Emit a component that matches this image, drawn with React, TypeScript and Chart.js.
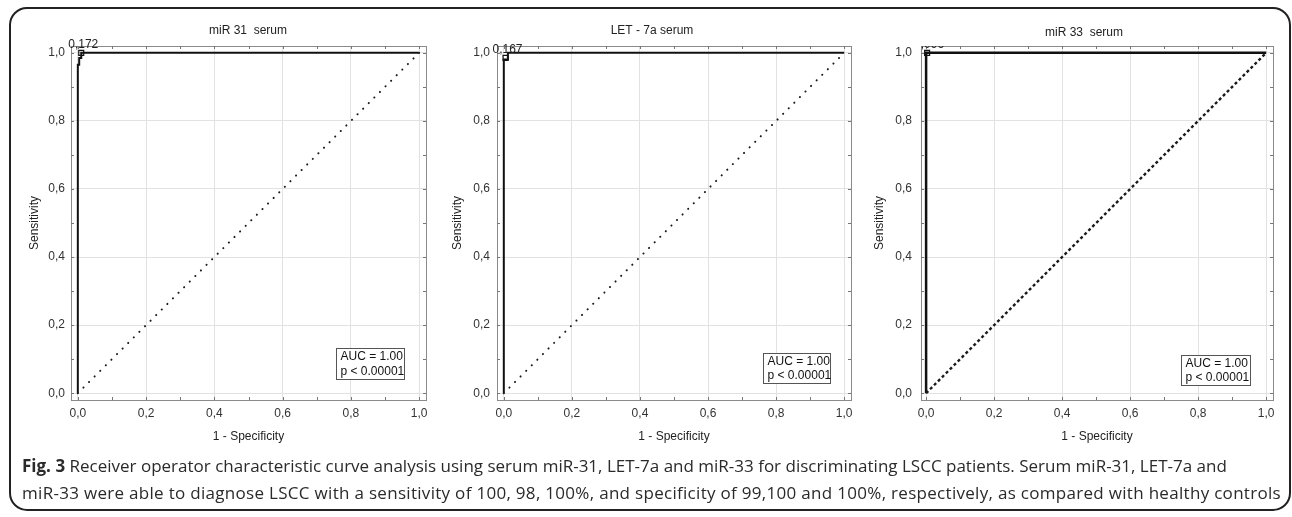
import React, { useEffect, useRef } from 'react';
import { Chart, registerables } from 'chart.js';

Chart.register(...registerables);
Chart.defaults.font.family = '"Liberation Sans", Arial, sans-serif';

// ---------- data ----------
const AXIS_TICKS = [0, 0.2, 0.4, 0.6, 0.8, 1.0];
const AXIS_TICK_LABELS = ['0,0', '0,2', '0,4', '0,6', '0,8', '1,0'];
const MINOR_TICKS = [0, 0.1, 0.2, 0.3, 0.4, 0.5, 0.6, 0.7, 0.8, 0.9, 1.0];

const PANEL_TITLES = ['miR 31  serum', 'LET - 7a serum', 'miR 33  serum'];
const X_TITLE = '1 - Specificity';
const Y_TITLE = 'Sensitivity';

const MIR31_FPR = [0, 0, 0.004, 0.004, 0.01, 0.01, 1];
const MIR31_TPR = [0, 0.965, 0.965, 0.985, 0.985, 1, 1];

const LET7A_FPR = [0, 0, 0.012, 0.012, 1];
const LET7A_TPR = [0, 0.98, 0.98, 1, 1];

const MIR33_FPR = [0, 0, 1];
const MIR33_TPR = [0, 1, 1];

const DIAG_X = [0, 1];
const DIAG_Y = [0, 1];

const CUTOFF_X = [0.01, 0.005, 0.003];
const CUTOFF_Y = [1, 0.985, 1];
const CUTOFF_LABELS = ['0,172', '0,167', '0,096'];

const AUC_LINES = ['AUC = 1.00', 'p < 0.00001'];

const CAPTION_BOLD = 'Fig. 3';
const CAPTION_LINE1 = ' Receiver operator characteristic curve analysis using serum miR-31, LET-7a and miR-33 for discriminating LSCC patients. Serum miR-31, LET-7a and';
const CAPTION_LINE2 = 'miR-33 were able to diagnose LSCC with a sensitivity of 100, 98, 100%, and specificity of 99,100 and 100%, respectively, as compared with healthy controls';

const ROC_FPR = [MIR31_FPR, LET7A_FPR, MIR33_FPR];
const ROC_TPR = [MIR31_TPR, LET7A_TPR, MIR33_TPR];

// ---------- layout / style per panel ----------
const PANELS = [
  { left: 15, yAxisW: 56, padRight: 9, xMin: -0.02, titleX: 233, titleY: 21, yTitleOff: 36, yTickPad: 6,
    box: [0.756, 0.956, 0.132, 0.041], diagDash: [0.1, 7.8], diagW: 2, diagCap: 'round', rocW: 2, clipLabel: false },
  { left: 440, yAxisW: 57, padRight: 9, xMin: -0.02, titleX: 212, titleY: 21, yTitleOff: 39, yTickPad: 7,
    box: [0.762, 0.959, 0.118, 0.03], diagDash: [0.1, 7.8], diagW: 2, diagCap: 'round', rocW: 2, clipLabel: false },
  { left: 865, yAxisW: 56, padRight: 12, xMin: -0.015, titleX: 219, titleY: 23, yTitleOff: 41, yTickPad: 9,
    box: [0.75, 0.953, 0.112, 0.024], diagDash: [3, 2.6], diagW: 2.4, diagCap: 'butt', rocW: 2.5, clipLabel: true },
];

const FONT = '"Liberation Sans", Arial, sans-serif';

const tickLabel = (v: number) => {
  const i = AXIS_TICKS.findIndex((t) => Math.abs(t - v) < 1e-6);
  return i >= 0 ? AXIS_TICK_LABELS[i] : '';
};

const decoPlugin = {
  id: 'deco',
  beforeDatasetsDraw(chart: any) {
    const { ctx, chartArea: ca, scales } = chart;
    ctx.save();
    ctx.strokeStyle = '#8a8a8a';
    ctx.lineWidth = 1;
    ctx.strokeRect(Math.round(ca.left) + 0.5, Math.round(ca.top) + 0.5, Math.round(ca.right - ca.left), Math.round(ca.bottom - ca.top));
    ctx.strokeStyle = '#777';
    MINOR_TICKS.forEach((v) => {
      const px = Math.round(scales.x.getPixelForValue(v)) + 0.5;
      const py = Math.round(scales.y.getPixelForValue(v)) + 0.5;
      ctx.beginPath();
      ctx.moveTo(px, ca.top); ctx.lineTo(px, ca.top + 3);
      ctx.moveTo(px, ca.bottom); ctx.lineTo(px, ca.bottom - 3);
      ctx.moveTo(ca.left, py); ctx.lineTo(ca.left + 3, py);
      ctx.moveTo(ca.right, py); ctx.lineTo(ca.right - 3, py);
      ctx.stroke();
    });
    ctx.restore();
  },
  afterDatasetsDraw(chart: any, _a: any, opts: any) {
    const { ctx, chartArea: ca, scales } = chart;
    const p = opts.panel;
    const idx = opts.index;
    // AUC box
    const x1 = Math.round(scales.x.getPixelForValue(p.box[0])) + 0.5;
    const x2 = Math.round(scales.x.getPixelForValue(p.box[1])) + 0.5;
    const y1 = Math.round(scales.y.getPixelForValue(p.box[2])) + 0.5;
    const y2 = Math.round(scales.y.getPixelForValue(p.box[3])) + 0.5;
    ctx.save();
    ctx.fillStyle = '#fff';
    ctx.fillRect(x1, y1, x2 - x1, y2 - y1);
    ctx.strokeStyle = '#555';
    ctx.lineWidth = 1;
    ctx.strokeRect(x1, y1, x2 - x1, y2 - y1);
    ctx.fillStyle = '#111';
    ctx.font = '12px ' + FONT;
    ctx.textAlign = 'left';
    ctx.textBaseline = 'middle';
    const h = y2 - y1;
    ctx.fillText(AUC_LINES[0], x1 + 4, y1 + h * 0.27);
    ctx.fillText(AUC_LINES[1], x1 + 4, y1 + h * 0.75);
    ctx.restore();
    // cutoff label
    const lx = scales.x.getPixelForValue(CUTOFF_X[idx]);
    const ly = scales.y.getPixelForValue(CUTOFF_Y[idx]);
    ctx.save();
    if (p.clipLabel) {
      ctx.beginPath();
      ctx.rect(ca.left, ca.top, ca.right - ca.left, ca.bottom - ca.top);
      ctx.clip();
    }
    ctx.fillStyle = '#222';
    ctx.font = '12px ' + FONT;
    ctx.textAlign = 'center';
    ctx.textBaseline = 'middle';
    ctx.fillText(CUTOFF_LABELS[idx], lx + 2, ly - 8);
    ctx.restore();
  },
  afterDraw(chart: any, _a: any, opts: any) {
    const { ctx, chartArea: ca } = chart;
    const p = opts.panel;
    const idx = opts.index;
    ctx.save();
    ctx.fillStyle = '#222';
    ctx.font = '12px ' + FONT;
    ctx.textAlign = 'center';
    ctx.textBaseline = 'middle';
    ctx.fillText(PANEL_TITLES[idx], p.titleX, p.titleY);
    ctx.fillText(X_TITLE, (ca.left + ca.right) / 2, ca.bottom + 37);
    ctx.translate(ca.left - p.yTitleOff, (ca.top + ca.bottom) / 2);
    ctx.rotate(-Math.PI / 2);
    ctx.fillText(Y_TITLE, 0, 0);
    ctx.restore();
  },
};

function RocPanel({ index }: { index: number }) {
  const ref = useRef<HTMLCanvasElement | null>(null);
  const p = PANELS[index];
  useEffect(() => {
    if (!ref.current) return;
    const roc = ROC_FPR[index].map((x, i) => ({ x, y: ROC_TPR[index][i] }));
    const diag = DIAG_X.map((x, i) => ({ x, y: DIAG_Y[i] }));
    const chart = new Chart(ref.current, {
      type: 'scatter',
      data: {
        datasets: [
          {
            data: diag,
            showLine: true,
            borderColor: '#1a1a1a',
            borderWidth: p.diagW,
            borderDash: p.diagDash,
            borderCapStyle: p.diagCap,
            pointRadius: 0,
          } as any,
          {
            data: roc,
            showLine: true,
            borderColor: '#111',
            borderWidth: p.rocW,
            pointRadius: 0,
            tension: 0,
          },
          {
            data: [{ x: CUTOFF_X[index], y: CUTOFF_Y[index] }],
            showLine: false,
            pointStyle: 'rect',
            pointRadius: 3.5,
            borderColor: '#111',
            borderWidth: 1.2,
            backgroundColor: 'rgba(0,0,0,0)',
          },
        ],
      },
      options: {
        animation: false,
        responsive: false,
        events: [],
        layout: { padding: { top: 36, right: p.padRight, left: 0, bottom: 0 } },
        plugins: {
          legend: { display: false },
          tooltip: { enabled: false },
          deco: { panel: p, index },
        } as any,
        scales: {
          x: {
            type: 'linear',
            min: p.xMin,
            max: 1.02,
            afterBuildTicks: (s: any) => { s.ticks = AXIS_TICKS.map((v) => ({ value: v })); },
            afterFit: (s: any) => { s.height = 60; },
            grid: { color: '#e2e2e2', drawTicks: false },
            border: { display: false },
            ticks: { padding: 6, color: '#333', font: { size: 12 }, maxRotation: 0, autoSkip: false, callback: (v: any) => tickLabel(Number(v)) },
          },
          y: {
            type: 'linear',
            min: -0.02,
            max: 1.02,
            afterBuildTicks: (s: any) => { s.ticks = AXIS_TICKS.map((v) => ({ value: v })); },
            afterFit: (s: any) => { s.width = p.yAxisW; },
            grid: { color: '#e2e2e2', drawTicks: false },
            border: { display: false },
            ticks: { padding: p.yTickPad, color: '#333', font: { size: 12 }, autoSkip: false, callback: (v: any) => tickLabel(Number(v)) },
          },
        },
      },
      plugins: [decoPlugin],
    } as any);
    return () => chart.destroy();
  }, [index]);
  return (
    <canvas
      ref={ref}
      width={420}
      height={450}
      style={{ position: 'absolute', left: p.left, top: 10, width: 420, height: 450 }}
    />
  );
}

export default function App() {
  const capStyle: React.CSSProperties = {
    position: 'absolute', left: 22, fontFamily: '"Open Sans", "Noto Sans", sans-serif',
    fontSize: 17, lineHeight: '27px', color: '#2a2a2a', whiteSpace: 'nowrap',
  };
  return (
    <div style={{ position: 'fixed', left: 0, top: 0, width: 1292, height: 517, background: '#fff', overflow: 'hidden' }}>
      <div
        style={{
          position: 'absolute', left: 9, top: 7, width: 1282, height: 504, boxSizing: 'border-box',
          border: '2px solid #222', borderRadius: 18,
        }}
      />
      <RocPanel index={0} />
      <RocPanel index={1} />
      <RocPanel index={2} />
      <div style={{ ...capStyle, top: 452 }}>
        <b>{CAPTION_BOLD}</b>{CAPTION_LINE1}
      </div>
      <div style={{ ...capStyle, top: 479, letterSpacing: '0.3px' }}>
        {CAPTION_LINE2}
      </div>
    </div>
  );
}
